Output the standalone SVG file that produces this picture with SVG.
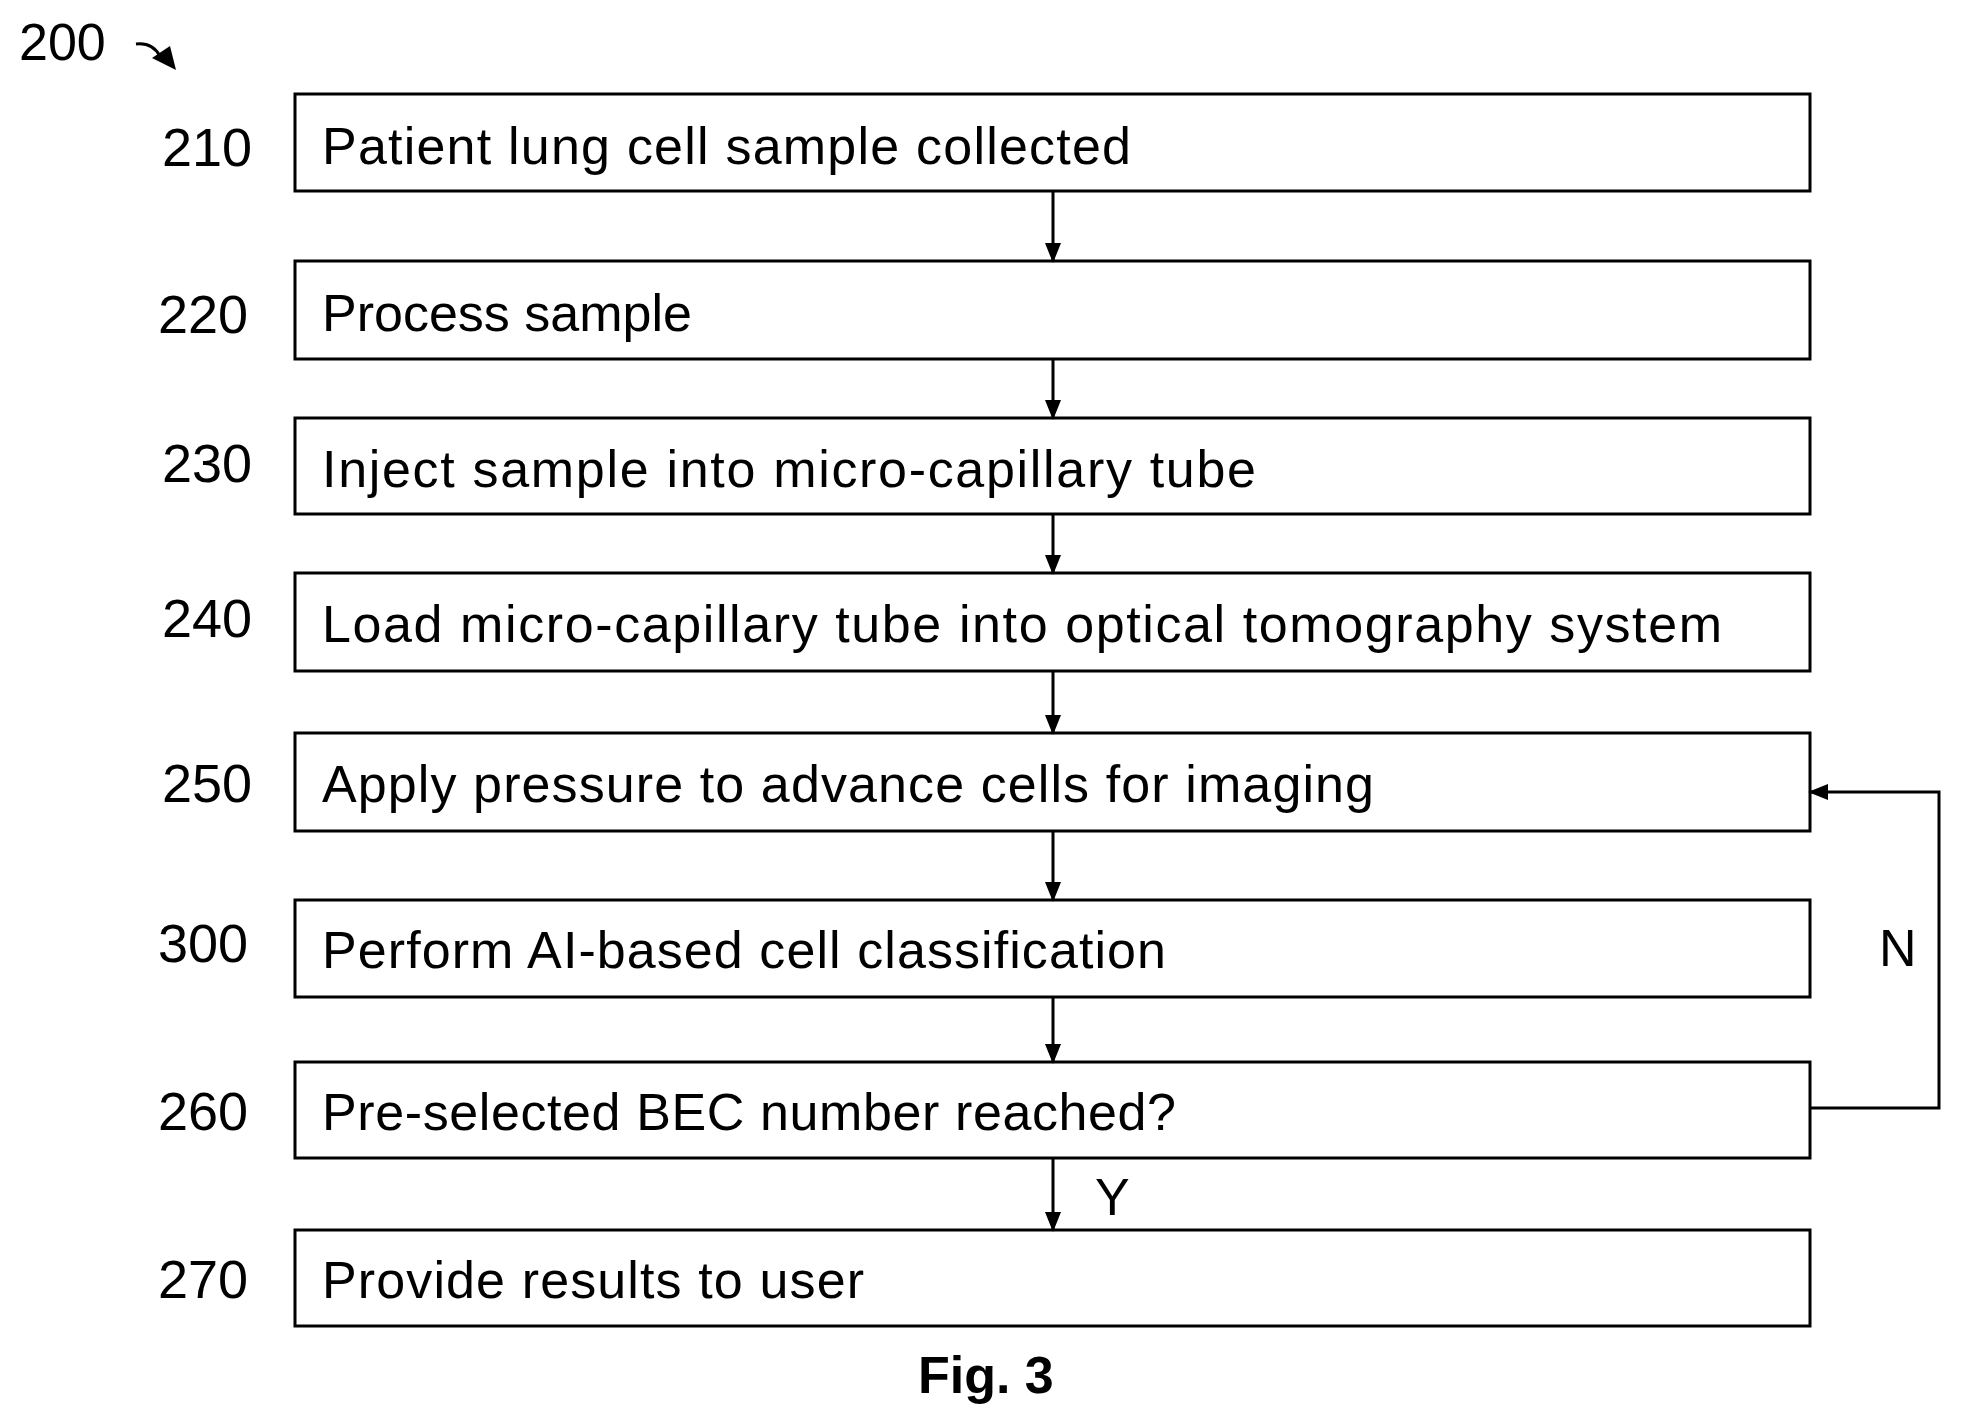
<svg xmlns="http://www.w3.org/2000/svg" width="1962" height="1427" viewBox="0 0 1962 1427">
<style>
.b{fill:#fff;stroke:#000;stroke-width:3}
.t{font-family:"Liberation Sans",Arial,sans-serif;font-size:52px;fill:#000}
.n{font-family:"Liberation Sans",Arial,sans-serif;font-size:54px;fill:#000;text-anchor:end}
.c{stroke:#000;stroke-width:3;fill:none}
</style>
<defs>
<marker id="a2" markerWidth="20" markerHeight="20" refX="18" refY="10" orient="auto" markerUnits="userSpaceOnUse" viewBox="0 0 20 20"><path d="M0,2 L20,10 L0,18 z" fill="#000"/></marker></defs>
<rect width="1962" height="1427" fill="#fff"/>
<text x="19" y="60" class="t" font-size="52">200</text>
<path class="c" d="M136,44 Q152,42 160,56" stroke-width="4"/>
<path d="M152,58 L176,70 L170,46 z" fill="#000"/>
<g id="n210"><rect class="b" x="295" y="94" width="1515" height="97"/><text class="n" x="252" y="166">210</text><text class="t" x="322" y="164" textLength="809">Patient lung cell sample collected</text></g>
<g id="n220"><rect class="b" x="295" y="261" width="1515" height="98"/><text class="n" x="248" y="333">220</text><text class="t" x="322" y="331" textLength="370">Process sample</text></g>
<g id="n230"><rect class="b" x="295" y="418" width="1515" height="96"/><text class="n" x="252" y="482">230</text><text class="t" x="322" y="487" textLength="934">Inject sample into micro-capillary tube</text></g>
<g id="n240"><rect class="b" x="295" y="573" width="1515" height="98"/><text class="n" x="252" y="637">240</text><text class="t" x="322" y="642" textLength="1400">Load micro-capillary tube into optical tomography system</text></g>
<g id="n250"><rect class="b" x="295" y="733" width="1515" height="98"/><text class="n" x="252" y="802">250</text><text class="t" x="322" y="802" textLength="1052">Apply pressure to advance cells for imaging</text></g>
<g id="n300"><rect class="b" x="295" y="900" width="1515" height="97"/><text class="n" x="248" y="962">300</text><text class="t" x="322" y="968" textLength="844">Perform AI-based cell classification</text></g>
<g id="n260"><rect class="b" x="295" y="1062" width="1515" height="96"/><text class="n" x="248" y="1130">260</text><text class="t" x="322" y="1130" textLength="854">Pre-selected BEC number reached?</text></g>
<g id="n270"><rect class="b" x="295" y="1230" width="1515" height="96"/><text class="n" x="248" y="1298">270</text><text class="t" x="322" y="1298" textLength="542">Provide results to user</text></g>
<g id="connectors">
<line class="c" x1="1053" y1="191" x2="1053" y2="261" marker-end="url(#a2)"/>
<line class="c" x1="1053" y1="359" x2="1053" y2="418" marker-end="url(#a2)"/>
<line class="c" x1="1053" y1="514" x2="1053" y2="573" marker-end="url(#a2)"/>
<line class="c" x1="1053" y1="671" x2="1053" y2="733" marker-end="url(#a2)"/>
<line class="c" x1="1053" y1="831" x2="1053" y2="900" marker-end="url(#a2)"/>
<line class="c" x1="1053" y1="997" x2="1053" y2="1062" marker-end="url(#a2)"/>
<line class="c" x1="1053" y1="1158" x2="1053" y2="1230" marker-end="url(#a2)"/>
<path class="c" d="M1810,1108 H1939 V792 H1810" marker-end="url(#a2)"/>
<text class="t" x="1879" y="966" font-size="52">N</text>
<text class="t" x="1095" y="1215" font-size="52">Y</text>
</g>
<text class="t" x="918" y="1393" font-weight="bold" font-size="50">Fig. 3</text>
</svg>
